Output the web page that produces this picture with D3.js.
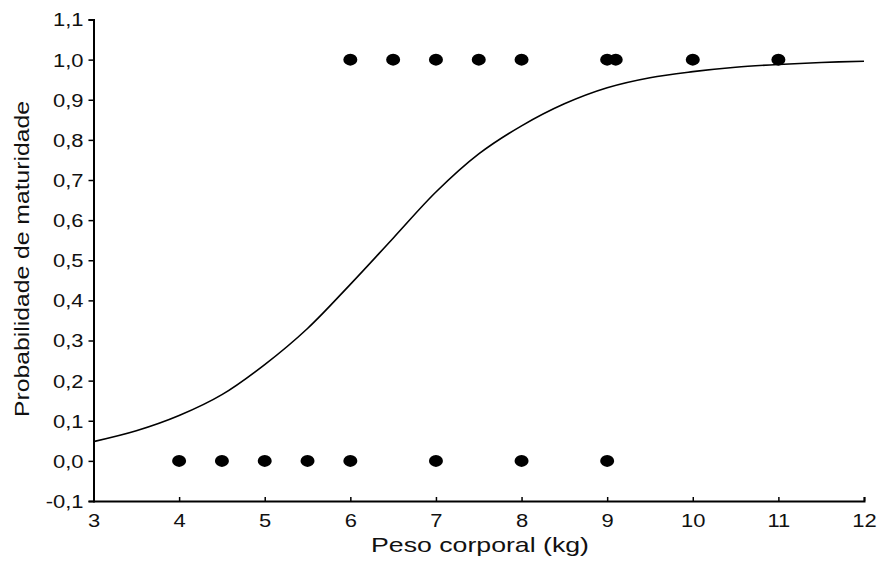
<!DOCTYPE html>
<html><head><meta charset="utf-8">
<script src="https://cdn.jsdelivr.net/npm/d3@7"></script>
<style>body{margin:0;background:#fff}svg{display:block}</style>
</head><body>
<svg id="c" width="878" height="565"></svg>
<script>
const matureX = [6, 6.5, 7, 7.5, 8, 9, 9.1, 10, 11];
const immatureX = [4, 4.5, 5, 5.5, 6, 7, 8, 9];
const curveX = [3,3.5,4,4.5,5,5.5,6,6.5,7,7.5,8,8.5,9,9.5,10,10.5,11,11.5,12];
const curveP = [0.048,0.075,0.113,0.165,0.24,0.33,0.44,0.555,0.67,0.765,0.835,0.89,0.93,0.955,0.97,0.981,0.988,0.993,0.996];
const xTicks = [3,4,5,6,7,8,9,10,11,12];
const yTicks = [-0.1,0,0.1,0.2,0.3,0.4,0.5,0.6,0.7,0.8,0.9,1.0,1.1];

const svg = d3.select('#c');
const x = d3.scaleLinear().domain([3,12]).range([93.5,864]);
const y = d3.scaleLinear().domain([-0.1,1.1]).range([501,19.5]);
const font = "'Liberation Sans', Arial, sans-serif";
const fmt = v => d3.format('.1f')(v).replace('.', ',').replace('−','-');
const stretch = (sel, k) => sel.each(function(){
  const L = this.getComputedTextLength();
  d3.select(this).attr('textLength', L*k).attr('lengthAdjust','spacingAndGlyphs');
});

const gx = svg.append('g').attr('transform',`translate(0,${y(-0.1)})`)
  .call(d3.axisBottom(x).tickValues(xTicks).tickSize(-4).tickPadding(10).tickFormat(d=>d));
const gy = svg.append('g').attr('transform',`translate(${x(3)},0)`)
  .call(d3.axisLeft(y).tickValues(yTicks).tickSize(5).tickPadding(5).tickFormat(fmt));
[gx,gy].forEach(g=>{
  g.select('.domain').attr('stroke','#000').attr('stroke-width',2);
  g.selectAll('.tick line').attr('stroke','#000').attr('stroke-width',1.5);
  g.selectAll('.tick text').attr('font-family',font).attr('font-size',18).attr('fill','#111');
  stretch(g.selectAll('.tick text'), 1.22);
});
gx.selectAll('.tick text').attr('dy','0.9em');
gy.selectAll('.tick text').attr('dy','0.36em');

const pts = curveX.map((v,i)=>[v,curveP[i]]);
svg.append('path').datum(pts)
  .attr('d', d3.line().x(d=>x(d[0])).y(d=>y(d[1])).curve(d3.curveCatmullRom))
  .attr('fill','none').attr('stroke','#000').attr('stroke-width',1.6);

const dots = matureX.map(v=>[v,1]).concat(immatureX.map(v=>[v,0]));
svg.append('g').selectAll('ellipse').data(dots).join('ellipse')
  .attr('cx',d=>x(d[0])).attr('cy',d=>y(d[1])).attr('rx',7).attr('ry',6).attr('fill','#000');

svg.append('text').attr('x',480).attr('y',552).attr('text-anchor','middle')
  .attr('font-family',font).attr('font-size',21).attr('fill','#111').text('Peso corporal (kg)')
  .attr('textLength',218).attr('lengthAdjust','spacingAndGlyphs');
svg.append('text').attr('transform',`translate(29,259) rotate(-90)`)
  .attr('text-anchor','middle').attr('font-family',font).attr('font-size',21).attr('fill','#111')
  .text('Probabilidade de maturidade')
  .attr('textLength',316).attr('lengthAdjust','spacingAndGlyphs');
</script>
</body></html>
